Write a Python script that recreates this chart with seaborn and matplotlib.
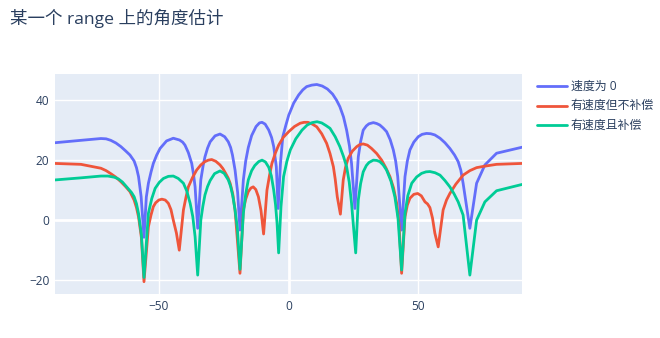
import numpy as np
import pandas as pd
import matplotlib
matplotlib.use("Agg")
import matplotlib.pyplot as plt
from matplotlib.lines import Line2D
import seaborn as sns

title = "某一个 range 上的角度估计"
series_names = ["速度为 0", "有速度但不补偿", "有速度且补偿"]
colors = ["#636EFA", "#EF553B", "#00CC96"]

blue_x = [-90, -80, -72.3, -70.3, -68.5, -66.5, -64.6, -62.8, -61.1, -59.5, -58.6, -57.8, -56.8, -55.7,
          -54.8, -54.0, -53.0, -52.1, -50.8, -49.5, -47.0, -44.4, -42.0, -40.8, -39.9, -38.6, -37.3,
          -36.6, -36.0, -35.0, -33.8, -32.9, -32.2, -31.2, -30.2, -28.3, -26.4, -24.6, -23.2, -22.3,
          -21.6, -20.6, -19.6, -18.7, -17.4, -16.5, -15.5, -14.2, -12.5, -11.2, -10.2, -9.0, -7.6,
          -6.5, -5.7, -4.7, -4.0, -3.1, -2.2, -1.0, 0.1, 2.0, 3.9, 5.5, 7.0, 9.0, 10.9, 13.0, 15.0,
          17.0, 18.5, 19.8, 21.2, 22.4, 23.5, 24.3, 25.6, 26.9, 27.8, 28.8, 30.0, 31.0, 32.7, 34.0,
          35.2, 36.5, 37.8, 39.2, 40.4, 41.3, 42.1, 43.6, 44.9, 45.8, 46.8, 48.3, 50.0, 51.5, 53.2,
          54.8, 56.4, 58.4, 60.3, 62.2, 64.0, 65.4, 66.4, 67.3, 69.9, 72.5, 75.7, 80.2, 90]
blue_y = [25.6, 26.4, 27.0, 26.9, 26.4, 25.5, 24.3, 22.9, 21.5, 19.5, 17.3, 14.3, 7.6, -5.9,
          7.5, 12.1, 15.8, 18.7, 21.5, 23.7, 26.2, 27.1, 26.5, 25.8, 24.8, 22.3, 18.7,
          15.0, 10.9, -2.9, 13.2, 18.0, 20.9, 23.8, 25.9, 27.9, 28.5, 27.6, 25.9, 24.0,
          21.5, 16.5, 9.0, -3.5, 13.2, 19.5, 24.0, 28.0, 31.0, 32.2, 32.4, 31.8, 29.8,
          27.3, 24.3, 17.6, 3.7, 18.7, 27.6, 31.5, 34.8, 38.8, 41.5, 43.2, 44.3, 44.8, 45.0, 44.5, 43.5,
          41.8, 39.8, 37.6, 34.2, 29.8, 24.5, 18.7, 3.7, 20.9, 26.0, 29.8, 31.2, 31.9, 32.3, 32.0,
          31.5, 30.5, 29.3, 26.6, 23.2, 19.5, 14.3, -3.5, 14.3, 19.5, 23.2, 25.8, 27.6, 28.4, 28.7,
          28.6, 28.2, 27.1, 25.6, 23.7, 21.5, 19.3, 16.5, 12.1, -2.9, 12.1, 18.2, 22.1, 24.1]

red_x = [-90, -80, -72.3, -70.3, -68.5, -66.5, -64.6, -62.8, -61.1, -59.5, -58.6, -57.8, -56.7, -55.7,
         -54.0, -53.0, -52.1, -51.2, -50.0, -48.8, -47.5, -46.3, -45.3, -44.4, -43.2, -42.1,
         -40.5, -39.5, -38.6, -37.0, -35.4, -33.8, -32.2, -30.9, -29.6, -28.0, -26.4, -25.3, -24.3,
         -23.3, -22.5, -21.5, -20.6, -18.7, -17.4, -16.5, -15.5, -14.5, -13.6, -12.6, -11.6, -10.6,
         -9.6, -8.3, -7.3, -6.4, -5.0, -3.8, -2.0, 0.1, 2.3, 4.5, 6.0, 7.5, 9.2, 10.9, 12.8, 14.7,
         16.0, 17.3, 18.0, 18.8, 20.0, 21.1, 22.0, 23.0, 24.6, 26.3, 27.5, 28.8, 30.4, 32.0, 34.0,
         35.9, 37.5, 39.1, 40.5, 41.7, 42.6, 43.6, 44.9, 45.8, 46.8, 48.3, 49.8, 51.2, 52.6, 53.6,
         54.5, 55.5, 56.4, 57.7, 59.6, 60.9, 62.2, 64.5, 67.3, 69.9, 72.5, 75.7, 80.2, 90]
red_y = [18.7, 18.4, 17.1, 16.3, 15.3, 14.1, 12.6, 11.0, 9.3, 6.5, 4.0, 0.9, -6.0, -20.7,
         -2.4, 1.5, 4.3, 5.6, 6.5, 6.8, 6.5, 5.4, 3.3, -0.2, -4.5, -10.2,
         3.2, 7.5, 10.9, 14.0, 16.5, 18.2, 19.3, 19.8, 20.0, 19.4, 18.2, 17.0, 15.5,
         13.9, 12.1, 8.6, 3.2, -17.9, 3.2, 6.8, 9.3, 10.5, 10.9, 10.0, 7.6, 3.0,
         -4.8, 9.8, 14.8, 18.7, 22.3, 24.8, 27.4, 29.3, 31.0, 32.1, 32.4, 32.4, 31.8, 30.9, 28.6, 25.4,
         22.0, 17.6, 13.5, 7.6, 1.8, 13.2, 17.5, 20.4, 22.8, 24.3, 25.0, 25.2, 24.8, 23.7, 22.0,
         19.8, 17.3, 14.3, 10.5, 5.4, -1.5, -17.9, 0.9, 4.8, 7.1, 8.4, 8.7, 7.9, 5.9, 5.2,
         4.0, 0.5, -4.5, -9.1, 3.2, 6.5, 8.7, 11.8, 14.8, 16.3, 17.3, 17.8, 18.4, 18.7]

green_x = [-90, -80, -72.3, -69.6, -67.1, -65.5, -64.0, -61.9, -60.5, -59.5, -58.6, -57.8, -56.7, -55.7,
           -54.0, -52.7, -51.4, -49.8, -48.2, -46.3, -44.4, -42.5, -40.5, -39.2, -37.9, -36.9, -36.0,
           -35.0, -33.8, -33.0, -32.2, -31.2, -30.2, -28.5, -26.4, -24.8, -23.2, -22.3, -21.5, -20.6,
           -19.7, -18.7, -17.4, -16.5, -15.5, -14.2, -13.0, -11.5, -10.2, -8.9, -7.6, -6.6, -5.7,
           -5.0, -4.4, -3.8, -2.9, -1.9, -0.6, 0.7, 2.8, 5.2, 7.2, 9.1, 11.0, 12.8, 14.5, 16.0, 18.0,
           19.8, 21.2, 22.4, 23.4, 24.3, 25.9, 26.9, 27.8, 28.8, 30.0, 31.0, 32.7, 34.0, 35.2, 36.5,
           37.8, 39.5, 41.0, 42.2, 43.6, 44.9, 46.0, 47.5, 49.4, 51.3, 53.0, 54.5, 56.5, 58.4, 60.3,
           62.2, 63.8, 65.4, 67.3, 69.9, 72.5, 75.7, 80.2, 90]
green_y = [13.2, 13.9, 14.5, 14.5, 14.1, 13.5, 12.5, 10.4, 9.0, 7.6, 5.3, 2.0, -5.0, -19.3,
           2.1, 7.0, 10.4, 12.4, 13.7, 14.4, 14.5, 13.7, 12.1, 9.5, 5.4, 1.0, -5.7,
           -18.5, -0.2, 4.5, 8.2, 11.0, 13.0, 15.3, 16.2, 15.4, 13.2, 11.0, 8.0, 3.2,
           -3.0, -16.6, 2.1, 8.5, 13.2, 16.3, 18.0, 19.3, 19.8, 19.2, 17.4, 14.5, 9.8,
           5.0, -1.3, -11.1, 4.3, 14.3, 19.5, 23.2, 26.9, 29.8, 31.5, 32.3, 32.6, 32.2, 31.3, 30.4, 27.6,
           24.3, 21.0, 17.6, 12.5, 5.4, -11.1, 6.5, 12.0, 15.9, 18.0, 19.0, 19.8, 19.7, 19.3, 18.2,
           16.5, 12.8, 7.6, 0.5, -16.8, 2.1, 8.0, 12.1, 14.2, 15.4, 15.9, 16.0, 15.6, 14.8, 13.0,
           10.9, 8.6, 5.9, 1.5, -18.5, -0.2, 5.9, 9.6, 11.7]

x_ticks = [-50, 0, 50]
y_ticks = [-20, 0, 20, 40]

frames = []
for name, xs, ys in zip(series_names, [blue_x, red_x, green_x], [blue_y, red_y, green_y]):
    frames.append(pd.DataFrame({"angle": xs, "value": ys, "series": name}))
df = pd.concat(frames, ignore_index=True)

sns.set_theme(style="darkgrid")
plt.rcParams["font.family"] = ["Open Sans", "Noto Sans CJK SC", "DejaVu Sans"]
plt.rcParams["axes.unicode_minus"] = True

W, H = 660, 338
fig = plt.figure(figsize=(W / 100, H / 100), dpi=100)
fig.patch.set_facecolor("white")
ax = fig.add_axes([55 / W, 1 - 294 / H, 467 / W, 220 / H])
ax.set_facecolor("#E5ECF6")

sns.lineplot(data=df, x="angle", y="value", hue="series", hue_order=series_names,
             palette=colors, estimator=None, sort=True, linewidth=2, ax=ax, legend=False)

ax.set_xlim(-90, 90)
ax.set_ylim(-24.8, 48.5)
ax.set_xticks(x_ticks)
ax.set_yticks(y_ticks)
ax.set_xticklabels([str(t).replace("-", "\u2212") for t in x_ticks])
ax.set_yticklabels([str(t).replace("-", "\u2212") for t in y_ticks])
ax.grid(True, color="white", linewidth=1)
ax.set_axisbelow(True)
ax.axhline(0, color="white", linewidth=2, zorder=0.5)
ax.axvline(0, color="white", linewidth=2, zorder=0.5)
for s in ax.spines.values():
    s.set_visible(False)
ax.tick_params(axis="both", length=0, labelsize=8.6, colors="#2a3f5f", pad=4)
ax.set_xlabel("")
ax.set_ylabel("")

# legend (plotly-style, to the right of the plot area)
leg_y = [86, 105.5, 125]
for name, c, yy in zip(series_names, colors, leg_y):
    fig.add_artist(Line2D([537 / W, 567 / W], [1 - yy / H, 1 - yy / H], color=c, linewidth=2,
                          transform=fig.transFigure))
    fig.text(571 / W, 1 - yy / H, name, ha="left", va="center", fontsize=8.6, color="#2a3f5f")

fig.text(10 / W, 1 - 18 / H, title, ha="left", va="center", fontsize=12.6, color="#2a3f5f")

fig.savefig("out.png", dpi=100)
